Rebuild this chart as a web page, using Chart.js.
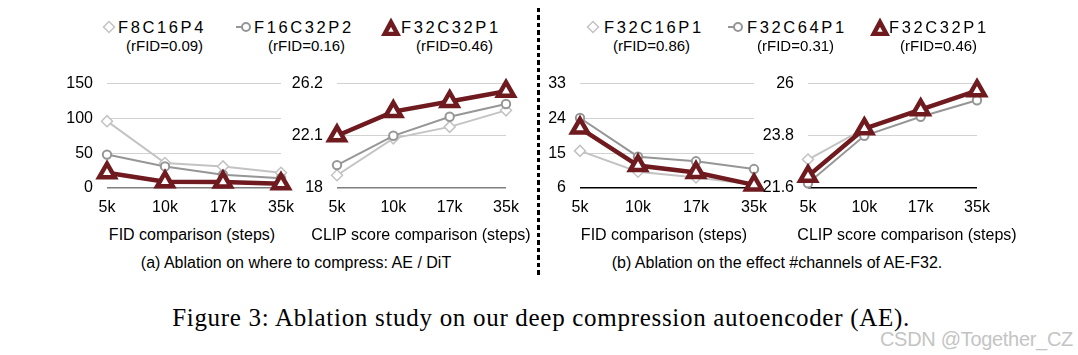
<!DOCTYPE html>
<html><head><meta charset="utf-8">
<script src="https://cdn.jsdelivr.net/npm/chart.js@4/dist/chart.umd.min.js"></script>
<style>
html,body{margin:0;padding:0;background:#fff;}
#fig{position:relative;width:1078px;height:355px;overflow:hidden;font-family:"Liberation Sans",Arial,sans-serif;color:#000;}
.t{position:absolute;white-space:nowrap;font-size:16px;line-height:20px;}
.c{transform:translateX(-50%);}
.l1{letter-spacing:2.6px;font-size:16.5px;}
.l2{font-size:15px;}
canvas{position:absolute;}
svg{position:absolute;overflow:visible;}
#dash{position:absolute;left:537px;top:8px;width:3px;height:270px;background:repeating-linear-gradient(to bottom,#000 0 4.5px,transparent 4.5px 7.5px);}
#cap{position:absolute;left:541px;top:304px;transform:translateX(-50%);font-family:"Liberation Serif","Times New Roman",serif;font-size:25px;letter-spacing:0.7px;line-height:28px;white-space:nowrap;}
#wm{position:absolute;right:5px;top:327px;font-size:20px;line-height:24px;color:#c4c4c4;white-space:nowrap;letter-spacing:-0.3px;}
</style></head>
<body><div id="fig">
<canvas id="c1"></canvas><canvas id="c2"></canvas><canvas id="c3"></canvas><canvas id="c4"></canvas>
<div id="dash"></div>
<!-- legend (a) -->
<svg style="left:102px;top:20px" width="14" height="14"><polygon points="7,1.5 12.5,7 7,12.5 1.5,7" fill="#fff" stroke="#c3c3c3" stroke-width="1.5"/></svg>
<div class="t l1" style="left:118px;top:17px">F8C16P4</div>
<div class="t l2" style="left:126px;top:36px">(rFID=0.09)</div>
<svg style="left:236px;top:20px" width="16" height="14"><line x1="0" y1="7" x2="6" y2="7" stroke="#969696" stroke-width="2"/><circle cx="10" cy="7" r="4" fill="#fff" stroke="#969696" stroke-width="2"/></svg>
<div class="t l1" style="left:254px;top:17px">F16C32P2</div>
<div class="t l2" style="left:268px;top:36px">(rFID=0.16)</div>
<svg style="left:380px;top:17px" width="22" height="20"><polygon points="11,0.5 1,19 21,19" fill="#6e1a1f"/><polygon points="11,10 8.3,14.7 13.7,14.7" fill="#fff"/></svg>
<div class="t l1" style="left:401px;top:17px">F32C32P1</div>
<div class="t l2" style="left:416px;top:36px">(rFID=0.46)</div>
<!-- legend (b) -->
<svg style="left:586px;top:20px" width="14" height="14"><polygon points="7,1.5 12.5,7 7,12.5 1.5,7" fill="#fff" stroke="#c3c3c3" stroke-width="1.5"/></svg>
<div class="t l1" style="left:604px;top:17px">F32C16P1</div>
<div class="t l2" style="left:613px;top:36px">(rFID=0.86)</div>
<svg style="left:728px;top:20px" width="16" height="14"><line x1="0" y1="7" x2="6" y2="7" stroke="#969696" stroke-width="2"/><circle cx="10" cy="7" r="4" fill="#fff" stroke="#969696" stroke-width="2"/></svg>
<div class="t l1" style="left:747px;top:17px">F32C64P1</div>
<div class="t l2" style="left:757px;top:36px">(rFID=0.31)</div>
<svg style="left:869px;top:17px" width="22" height="20"><polygon points="11,0.5 1,19 21,19" fill="#6e1a1f"/><polygon points="11,10 8.3,14.7 13.7,14.7" fill="#fff"/></svg>
<div class="t l1" style="left:889px;top:17px">F32C32P1</div>
<div class="t l2" style="left:900px;top:36px">(rFID=0.46)</div>
<!-- axis titles & sub captions -->
<div class="t c" style="left:192px;top:225px">FID comparison (steps)</div>
<div class="t c" style="left:421px;top:225px">CLIP score comparison (steps)</div>
<div class="t c" style="left:664px;top:225px">FID comparison (steps)</div>
<div class="t c" style="left:907px;top:225px">CLIP score comparison (steps)</div>
<div class="t c" style="left:296px;top:253px">(a) Ablation on where to compress: AE / DiT</div>
<div class="t c" style="left:777px;top:253px">(b) Ablation on the effect #channels of AE-F32.</div>
<div id="cap">Figure 3: Ablation study on our deep compression autoencoder (AE).</div>
<div id="wm">CSDN @Together_CZ</div>
</div>
<script>
// ---- data ----
const steps = ["5k", "10k", "17k", "35k"];
// (a) where to compress
const aFid_F8C16P4  = [96, 36, 31, 22];
const aFid_F16C32P2 = [48, 31, 19, 14];
const aFid_F32C32P1 = [22, 9, 8.5, 6];
const aClip_F8C16P4  = [19.0, 21.9, 22.8, 24.1];
const aClip_F16C32P2 = [19.8, 22.1, 23.6, 24.6];
const aClip_F32C32P1 = [22.1, 24.0, 24.8, 25.6];
const aFidTicks  = [0, 50, 100, 150];
const aClipTicks = [18, 22.1, 26.2];
// (b) channels of AE-F32
const bFid_F32C16P1 = [15.6, 10.2, 8.7, 6.9];
const bFid_F32C64P1 = [24.1, 14.1, 12.9, 10.9];
const bFid_F32C32P1 = [21.5, 11.8, 10.0, 6.8];
const bClip_F32C16P1 = [22.8, 24.1, 24.9, 25.7];
const bClip_F32C64P1 = [21.8, 23.8, 24.6, 25.3];
const bClip_F32C32P1 = [22.1, 24.1, 24.9, 25.7];
const bFidTicks  = [6, 15, 24, 33];
const bClipTicks = [21.6, 23.8, 26];

// ---- styling ----
const FONT = "'Liberation Sans', Arial, sans-serif";
const MAROON = "#6e1a1f", MID = "#969696", LIGHT = "#c3c3c3";
const YW = 50, PT = 12, PR = 24, XH = 34;

function dia(data) {
  return {data, borderColor: LIGHT, borderWidth: 2, pointStyle: 'rectRot', pointRadius: 5.5,
    pointBorderWidth: 1.5, pointBorderColor: LIGHT, pointBackgroundColor: '#fff', clip: false, order: 2, tension: 0};
}
function cir(data) {
  return {data, borderColor: MID, borderWidth: 2, pointStyle: 'circle', pointRadius: 4.2,
    pointBorderWidth: 2, pointBorderColor: MID, pointBackgroundColor: '#fff', clip: false, order: 1, tension: 0};
}
function tri(data) {
  return {data, borderColor: MAROON, borderWidth: 4.5, pointStyle: 'triangle', pointRadius: 9,
    pointBorderWidth: 4.5, pointBorderColor: MAROON, pointBackgroundColor: '#fff', clip: false, order: 0, tension: 0};
}

function makeChart(id, box, ticks, bottomColor, datasets) {
  const cv = document.getElementById(id);
  const left = box.L - YW, top = box.T - PT;
  const w = box.R + PR - left, h = box.B + XH - top;
  cv.width = w; cv.height = h;
  cv.style.left = left + 'px'; cv.style.top = top + 'px';
  cv.style.width = w + 'px'; cv.style.height = h + 'px';
  new Chart(cv, {
    type: 'line',
    data: {labels: steps, datasets},
    options: {
      responsive: false, animation: false, devicePixelRatio: 1,
      layout: {padding: {left: 0, top: PT, right: PR, bottom: 0}},
      plugins: {legend: {display: false}, tooltip: {enabled: false}},
      scales: {
        x: {type: 'category', offset: false,
          grid: {display: false, drawTicks: false}, border: {display: false},
          ticks: {font: {family: FONT, size: 16}, color: '#000', padding: 10, maxRotation: 0, autoSkip: false},
          afterFit: s => { s.height = XH; }},
        y: {min: ticks[0], max: ticks[ticks.length - 1],
          afterBuildTicks: s => { s.ticks = ticks.map(v => ({value: v})); },
          grid: {drawTicks: false, color: c => c.index === 0 ? bottomColor : '#d2d2d2',
                 lineWidth: c => c.index === 0 ? 1.5 : 1},
          border: {display: false},
          ticks: {font: {family: FONT, size: 16}, color: '#000', padding: 14, callback: v => String(v)},
          afterFit: s => { s.width = YW; }}
      }
    }
  });
}

makeChart('c1', {L: 107, R: 281, T: 72, B: 188}, aFidTicks, '#7f7f7f',
  [tri(aFid_F32C32P1), cir(aFid_F16C32P2), dia(aFid_F8C16P4)]);
makeChart('c2', {L: 337, R: 506, T: 72, B: 188}, aClipTicks, '#7f7f7f',
  [tri(aClip_F32C32P1), cir(aClip_F16C32P2), dia(aClip_F8C16P4)]);
makeChart('c3', {L: 580, R: 754, T: 72, B: 188}, bFidTicks, '#000000',
  [tri(bFid_F32C32P1), cir(bFid_F32C64P1), dia(bFid_F32C16P1)]);
makeChart('c4', {L: 808, R: 977, T: 72, B: 188}, bClipTicks, '#000000',
  [tri(bClip_F32C32P1), cir(bClip_F32C64P1), dia(bClip_F32C16P1)]);
</script>
</body></html>
